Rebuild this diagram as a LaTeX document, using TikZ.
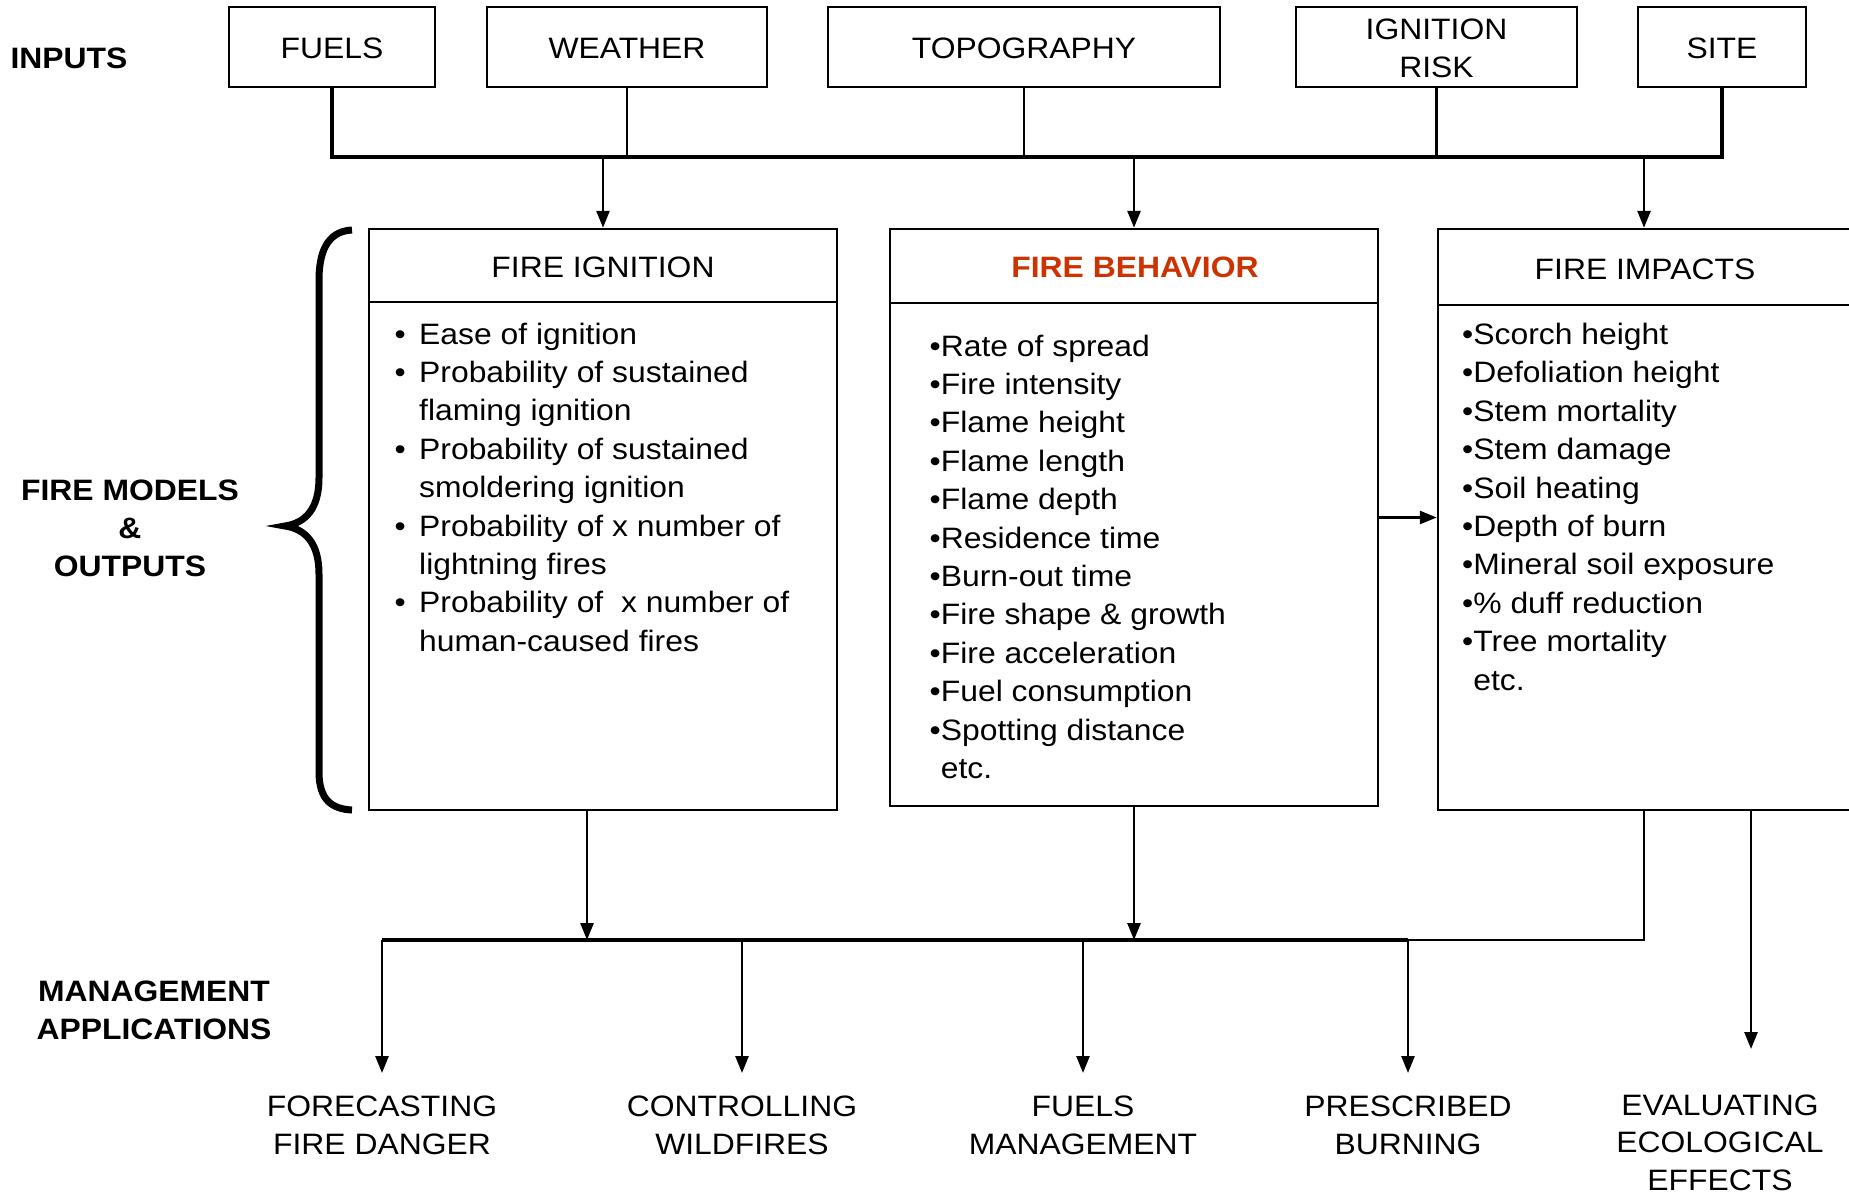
\documentclass[tikz,border=0pt]{standalone}
\usepackage{fontspec}
\setmainfont{Liberation Sans}[FakeStretch=1.08]
\usetikzlibrary{arrows.meta}
\definecolor{firered}{RGB}{204,51,0}
\newcommand\fsz{\fontsize{29.5pt}{38.4pt}\selectfont}
\newcommand\fszb{\fontsize{29.5pt}{37.6pt}\selectfont}
\newcommand\bul{\llap{•\hspace{13.4pt}}}
\begin{document}
\begin{tikzpicture}[x=1pt,y=-1pt,
  box/.style={draw,line width=2.5pt,inner sep=0pt},
  rule/.style={line width=2.5pt},
  lbl/.style={inner sep=0pt,font=\fsz,anchor=base},
  conn/.style={line width=2.7pt},
  bus/.style={line width=3.2pt},
  arr/.style={line width=2.7pt,-{Triangle[length=17pt,width=13pt]}}]
\fill[white] (0,0) rectangle (1849,1194);
\clip (0,0) rectangle (1849,1194);

% left labels
\node[lbl,font=\fsz\bfseries] (inputs) at (69,68) {INPUTS};
\node[lbl,font=\fsz\bfseries] (models) at (130,500) {\begin{tabular}[t]{@{}c@{}}FIRE MODELS\\ \&\\ OUTPUTS\end{tabular}};
\node[lbl,font=\fsz\bfseries] (mgmt) at (154,1001) {\begin{tabular}[t]{@{}c@{}}MANAGEMENT\\APPLICATIONS\end{tabular}};

% input boxes
\node[box,minimum width=206pt,minimum height=80pt] (fuels) at (332,47) {};
\node[box,minimum width=280pt,minimum height=80pt] (weather) at (627,47) {};
\node[box,minimum width=392pt,minimum height=80pt] (topo) at (1024,47) {};
\node[box,minimum width=281pt,minimum height=80pt] (ignrisk) at (1436.5,47) {};
\node[box,minimum width=168pt,minimum height=80pt] (site) at (1722,47) {};
\node[lbl] (fuelsT) at (332,58) {FUELS};
\node[lbl] (weatherT) at (627,58) {WEATHER};
\node[lbl] (topoT) at (1024,58) {TOPOGRAPHY};
\node[lbl] (ignriskT) at (1436.5,39) {\begin{tabular}[t]{@{}c@{}}IGNITION\\RISK\end{tabular}};
\node[lbl] (siteT) at (1722,58) {SITE};

% model boxes
\node[box,minimum width=468pt,minimum height=581pt] (ign) at (603,519.5) {};
\node[box,minimum width=488pt,minimum height=577pt] (beh) at (1134,517.5) {};
\node[box,minimum width=412pt,minimum height=581pt] (imp) at (1644,519.5) {};
\draw[rule] (369,302) -- (837,302);
\draw[rule] (890,303) -- (1378,303);
\draw[rule] (1438,305) -- (1850,305);
\node[lbl] (ignT) at (603,277) {FIRE IGNITION};
\node[lbl,font=\fsz\bfseries,text=firered] (behT) at (1135,277) {FIRE BEHAVIOR};
\node[lbl] (impT) at (1645,279) {FIRE IMPACTS};

\node[lbl,anchor=base west] (ignB) at (419,344) {\begin{tabular}[t]{@{}l@{}}
\bul Ease of ignition\\
\bul Probability of sustained\\
flaming ignition\\
\bul Probability of sustained\\
smoldering ignition\\
\bul Probability of x number of\\
lightning fires\\
\bul Probability of~ x number of\\
human-caused fires
\end{tabular}};

\node[lbl,anchor=base west] (behB) at (929.5,356) {\begin{tabular}[t]{@{}l@{}}
•Rate of spread\\
•Fire intensity\\
•Flame height\\
•Flame length\\
•Flame depth\\
•Residence time\\
•Burn-out time\\
•Fire shape \& growth\\
•Fire acceleration\\
•Fuel consumption\\
•Spotting distance\\
\phantom{•}etc.
\end{tabular}};

\node[lbl,anchor=base west] (impB) at (1462,344.5) {\begin{tabular}[t]{@{}l@{}}
•Scorch height\\
•Defoliation height\\
•Stem mortality\\
•Stem damage\\
•Soil heating\\
•Depth of burn\\
•Mineral soil exposure\\
•\% duff reduction\\
•Tree mortality\\
\phantom{•}etc.
\end{tabular}};

% brace
\draw[line width=7pt] (352,230) .. controls (332,231) and (319,245) .. (319,280) -- (319,478)
  .. controls (319,508) and (306,523) .. (285,526)
  .. controls (306,529) and (319,544) .. (319,574) -- (319,772)
  .. controls (319,800) and (332,809) .. (352,810);

% application labels
\node[lbl] (fc) at (382,1116) {\begin{tabular}[t]{@{}c@{}}FORECASTING\\FIRE DANGER\end{tabular}};
\node[lbl] (cw) at (742,1116) {\begin{tabular}[t]{@{}c@{}}CONTROLLING\\WILDFIRES\end{tabular}};
\node[lbl] (fm) at (1083,1116) {\begin{tabular}[t]{@{}c@{}}FUELS\\MANAGEMENT\end{tabular}};
\node[lbl] (pb) at (1408,1116) {\begin{tabular}[t]{@{}c@{}}PRESCRIBED\\BURNING\end{tabular}};
\node[lbl,font=\fszb] (ev) at (1720,1115) {\begin{tabular}[t]{@{}c@{}}EVALUATING\\ECOLOGICAL\\EFFECTS\end{tabular}};

% top connectors
\coordinate (busL) at (332,157);
\coordinate (busR) at (1722,157);
\draw[bus] (fuels.south) |- (busR) -- (site.south);
\draw[conn] (weather.south) -- (weather.south |- busL);
\draw[conn] (topo.south) -- (topo.south |- busL);
\draw[conn] (ignrisk.south) -- (ignrisk.south |- busL);
\draw[arr] (ign.north |- busL) -- (ign.north);
\draw[arr] (beh.north |- busL) -- (beh.north);
\draw[arr] (imp.north |- busL) -- (imp.north);

% behavior -> impacts
\draw[arr] (beh.east) -- (beh.east -| imp.west);

% bottom connectors
\coordinate (lbL) at (382,940);
\coordinate (lbIgn) at (587,940);
\coordinate (lbC) at (742,940);
\coordinate (lbF) at (1083,940);
\coordinate (lbBeh) at (1134,940);
\coordinate (lbR) at (1408,940);
\coordinate (fcEnd) at (382,1073);
\coordinate (cwEnd) at (742,1073);
\coordinate (fmEnd) at (1083,1073);
\coordinate (pbEnd) at (1408,1073);
\coordinate (evEnd) at (1751,1049);
\draw[bus] (lbL) -- (lbR);
\draw[arr] (ign.south -| lbIgn) -- (lbIgn);
\draw[arr] (beh.south) -- (lbBeh);
\draw[conn] (imp.south) |- (lbR);
\draw[arr] (imp.south -| evEnd) -- (evEnd);
\draw[arr] (lbL) -- (fcEnd);
\draw[arr] (lbC) -- (cwEnd);
\draw[arr] (lbF) -- (fmEnd);
\draw[arr] (lbR) -- (pbEnd);
\end{tikzpicture}
\end{document}
